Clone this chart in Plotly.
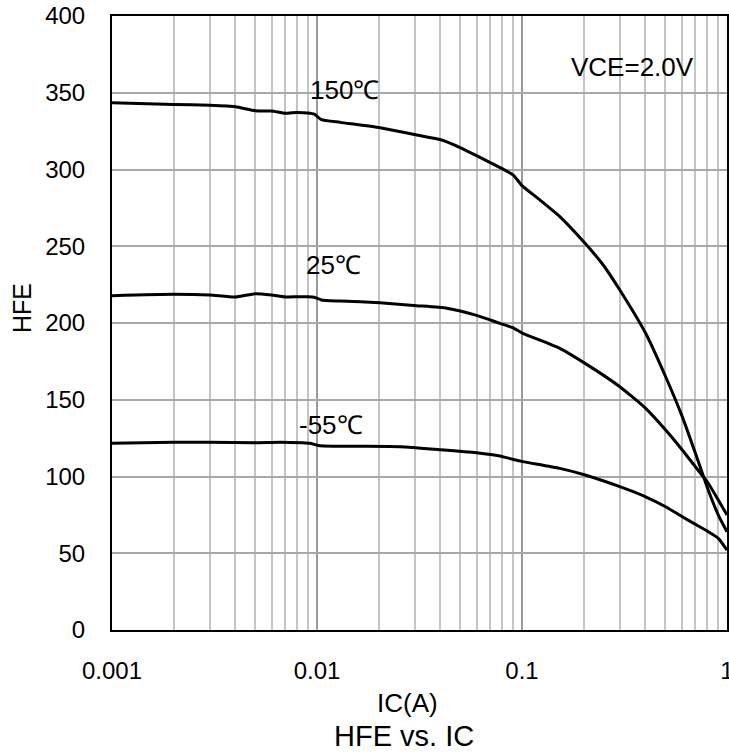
import numpy as np
import plotly.graph_objects as go

# ---- data ----
ic_150 = [0.001, 0.002, 0.003, 0.004, 0.005, 0.006, 0.007, 0.008, 0.009, 0.0097, 0.0105, 0.013,
          0.0203, 0.0306, 0.0406, 0.0508, 0.0624, 0.0795, 0.0907, 0.1, 0.1224, 0.153, 0.203,
          0.249, 0.3, 0.401, 0.502, 0.605, 0.711, 0.81, 0.907, 1.0]
hfe_150 = [343.5, 342.4, 341.8, 340.9, 338.3, 338.1, 336.6, 337.2, 336.8, 336.0, 332.5, 330.7,
           327.2, 322.5, 319.2, 313.8, 307.9, 300.7, 296.4, 289.5, 280.1, 269.3, 251.9,
           237.8, 221.5, 193.3, 165.0, 139.0, 112.9, 91.2, 74.9, 64.0]

ic_25 = [0.001, 0.002, 0.003, 0.004, 0.005, 0.006, 0.007, 0.008, 0.009, 0.0097, 0.0105, 0.013,
         0.0203, 0.0306, 0.043, 0.06, 0.078, 0.09, 0.101, 0.153, 0.203, 0.3, 0.401, 0.502,
         0.605, 0.711, 0.81, 0.907, 1.0]
hfe_25 = [217.8, 218.7, 218.2, 216.9, 219.1, 218.2, 216.9, 217.1, 217.1, 216.8, 215.0, 214.3,
          213.2, 211.3, 209.6, 205.0, 199.8, 197.0, 193.3, 183.5, 173.7, 158.5, 144.4, 130.3,
          117.3, 105.3, 95.6, 84.7, 74.9]

ic_m55 = [0.001, 0.002, 0.003, 0.005, 0.0066, 0.0092, 0.0103, 0.0254, 0.04, 0.06, 0.078, 0.09,
          0.101, 0.153, 0.203, 0.3, 0.401, 0.502, 0.605, 0.711, 0.81, 0.907, 1.0]
hfe_m55 = [121.6, 122.3, 122.3, 122.0, 122.3, 121.6, 120.1, 119.4, 117.5, 115.5, 113.4, 111.2,
           109.7, 105.3, 101.0, 93.4, 86.8, 80.3, 73.8, 68.4, 64.0, 59.7, 52.1]

x_major = [0.001, 0.01, 0.1, 1]
x_major_text = ["0.001", "0.01", "0.1", "1"]
x_minor = [m * d for d in [0.001, 0.01, 0.1] for m in range(2, 10)]

labels = ["150℃", "25℃", "-55℃", "VCE=2.0V"]
label_x = [0.01355, 0.0121, 0.0117, 0.347]
label_y = [352, 238, 133.5, 367]

FONT = "Liberation Sans, Arial, sans-serif"

# plot-area geometry in pixels (for converting outside-text positions)
L, R, T, B = 112, 727, 16, 630


def px_to_paper_x(px):
    return (px - L) / (R - L)


def px_to_paper_y(py):
    return (B - py) / (B - T)


fig = go.Figure()
for xs, ys, name in [(ic_150, hfe_150, "150℃"), (ic_25, hfe_25, "25℃"), (ic_m55, hfe_m55, "-55℃")]:
    fig.add_trace(go.Scatter(x=xs, y=ys, mode="lines", name=name,
                             line=dict(color="black", width=3, shape="spline", smoothing=0.5)))

for t, lx, ly in zip(labels, label_x, label_y):
    fig.add_annotation(x=np.log10(lx), y=ly, xref="x", yref="y", text=t, showarrow=False,
                       xanchor="center", yanchor="middle",
                       font=dict(family=FONT, size=26, color="black"))

fig.add_annotation(x=px_to_paper_x(407), y=px_to_paper_y(703), xref="paper", yref="paper",
                   text="IC(A)", showarrow=False, xanchor="center", yanchor="middle",
                   font=dict(family=FONT, size=26, color="black"))
fig.add_annotation(x=px_to_paper_x(404), y=px_to_paper_y(736), xref="paper", yref="paper",
                   text="HFE vs. IC", showarrow=False, xanchor="center", yanchor="middle",
                   font=dict(family=FONT, size=29, color="black"))
fig.add_annotation(x=px_to_paper_x(22), y=px_to_paper_y(308), xref="paper", yref="paper",
                   text="HFE", textangle=-90, showarrow=False, xanchor="center", yanchor="middle",
                   font=dict(family=FONT, size=25, color="black"))

fig.update_layout(
    width=729, height=756,
    margin=dict(l=L, r=729 - R, t=T, b=756 - B, autoexpand=False),
    paper_bgcolor="white", plot_bgcolor="white",
    showlegend=False,
    font=dict(family=FONT, size=24, color="black"),
    xaxis=dict(type="log", range=[-3, 0], tickmode="array", tickvals=x_major, ticktext=x_major_text,
               showgrid=True, gridcolor="#9a9a9a", gridwidth=1.6,
               minor=dict(tickmode="array", tickvals=x_minor, showgrid=True, gridcolor="#c4c4c4", gridwidth=1.6,
                          ticks=""),
               showline=True, linecolor="black", linewidth=2, mirror=True,
               ticks="outside", ticklen=18, tickcolor="rgba(0,0,0,0)",
               zeroline=False, tickfont=dict(size=24), automargin=False,
               ticklabeloverflow="allow"),
    yaxis=dict(range=[0, 400], dtick=50, tick0=0,
               showgrid=True, gridcolor="#a8a8a8", gridwidth=1.6,
               showline=True, linecolor="black", linewidth=2, mirror=True,
               ticks="outside", ticklen=20, tickcolor="rgba(0,0,0,0)",
               zeroline=False, tickfont=dict(size=24), automargin=False,
               ticklabeloverflow="allow"),
)

fig.write_html("out.html", config={"displayModeBar": False},
               post_script="document.body.style.margin='0';")
